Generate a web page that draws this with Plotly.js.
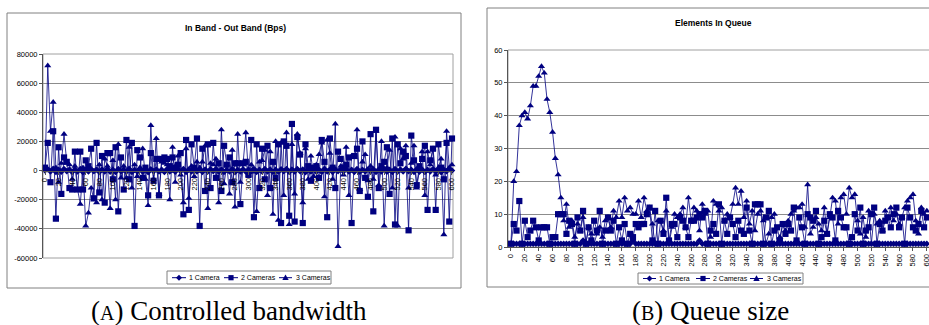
<!DOCTYPE html>
<html>
<head>
<meta charset="utf-8">
<script src="https://cdn.plot.ly/plotly-3.0.1.min.js"></script>
<style>
html,body{margin:0;padding:0;overflow:hidden;background:#fff;}
#chart{width:935px;height:325px;}
</style>
</head>
<body>
<div id="chart"></div>
<script>
// ---------- categories (sample index) ----------
const xCat = [
  0,4,8,12,16,20,24,28,32,36,
  40,44,48,52,56,60,64,68,72,76,
  80,84,88,92,96,100,104,108,112,116,
  120,124,128,132,136,140,144,148,152,156,
  160,164,168,172,176,180,184,188,192,196,
  200,204,208,212,216,220,224,228,232,236,
  240,244,248,252,256,260,264,268,272,276,
  280,284,288,292,296,300,304,308,312,316,
  320,324,328,332,336,340,344,348,352,356,
  360,364,368,372,376,380,384,388,392,396,
  400,404,408,412,416,420,424,428,432,436,
  440,444,448,452,456,460,464,468,472,476,
  480,484,488,492,496,500,504,508,512,516,
  520,524,528,532,536,540,544,548,552,556,
  560,564,568,572,576,580,584,588,592,596,
  600
];
const xTickVals = [0,20,40,60,80,100,120,140,160,180,200,220,240,260,280,300,
  320,340,360,380,400,420,440,460,480,500,520,540,560,580,600];
const xTickText = ['0','20','40','60','80','100','120','140','160','180','200','220','240','260','280','300',
  '320','340','360','380','400','420','440','460','480','500','520','540','560','580','600'];

// ---------- (A) In Band - Out Band (Bps) ----------
const bw1Camera = [
  0,900,-700,1200,-1000,600,-800,1100,-500,700,
  -900,800,-600,1000,-1200,500,-700,900,-400,800,
  -1000,700,-600,1100,-800,500,-900,1000,-500,600,
  -700,1200,-900,400,-600,1000,-800,700,-1100,900,
  -500,800,-700,600,-1000,1100,-600,500,-800,900,
  -400,1000,-900,700,-600,1200,-700,500,-1000,800,
  -600,900,-500,1100,-800,700,-900,600,-700,1000,
  -1100,500,-600,900,-800,700,-500,1200,-900,600,
  -700,1000,-600,800,-1000,500,-800,900,-400,1100,
  -900,700,-600,1000,-500,800,-1100,600,-700,900,
  -800,500,-900,1200,-600,700,-1000,800,-500,900,
  -700,1100,-600,500,-900,1000,-800,600,-700,800,
  -500,900,-1000,700,-600,1100,-800,500,-900,1000,
  -600,800,-700,1200,-500,600,-1000,900,-800,700,
  -900,500,-600,1000,-700,800,-1100,600,-500,900,
  0
];
const bw2Cameras = [
  2000,19000,-8000,27000,-33000,16000,-16000,9000,6000,-12000,
  -13000,13000,-13000,13000,-13000,7000,3000,15000,-19000,19000,
  -15000,10000,-22000,12000,12000,-6000,16000,-28000,9000,-13000,
  21000,-6000,19000,-38000,14000,9000,-5000,2000,-17000,12000,
  -7000,8000,-17000,8000,9000,8000,3000,9000,2000,4000,
  12000,-30000,21000,-27000,18000,2000,22000,-38000,15000,-14000,
  18000,-12000,19000,-5000,5000,-14000,17000,4000,9000,-8000,
  5000,5000,-23000,5000,6000,-3000,21000,-32000,18000,-12000,
  15000,-6000,17000,-12000,6000,-5000,18000,-36000,20000,17000,
  -31000,32000,-35000,23000,11000,-36000,18000,3000,-7000,2000,
  3000,-5000,21000,6000,-32000,22000,2000,-12000,13000,8000,
  2000,4000,9000,-36000,10000,15000,-14000,20000,-5000,-18000,
  25000,-28000,28000,-12000,3000,6000,16000,-16000,22000,-37000,
  18000,5000,13000,10000,-41000,24000,7000,-10000,3000,8000,
  17000,-27000,7000,15000,-27000,18000,2000,-6000,19000,-35000,
  22000
];
const bw3Cameras = [
  0,72000,27000,47000,2000,-8000,5000,25000,6000,4000,
  -6000,3000,-13000,-23000,2000,-38000,-29000,-12000,-20000,-22000,
  4000,-20000,8000,3000,-26000,7000,-20000,18000,-5000,3000,
  -5000,16000,-12000,4000,-4000,2000,15000,-6000,-24000,31000,
  -6000,22000,-16000,6000,5000,4000,-20000,16000,-8000,10000,
  -3000,-22000,15000,-19000,3000,-4000,6000,2000,6000,17000,
  -26000,5000,4000,8000,-22000,28000,-9000,4000,-16000,14000,
  -25000,25000,-8000,5000,26000,-3000,4000,-1000,-28000,6000,
  7000,14000,-17000,13000,-30000,20000,-34000,19000,-17000,26000,
  -37000,18000,-16000,25000,12000,-22000,15000,-6000,10000,-4000,
  4000,11000,19000,-18000,21000,12000,-6000,32000,-52000,3000,
  -3000,16000,-17000,10000,9000,28000,-13000,6000,11000,-7000,
  3000,-6000,27000,-10000,20000,-38000,2000,14000,-12000,23000,
  -38000,15000,8000,17000,-12000,5000,17000,-12000,1000,13000,
  -17000,13000,4000,15000,-3000,2000,8000,-44000,27000,2000,
  4000
];
const bwTickVals = [-60000,-40000,-20000,0,20000,40000,60000,80000];
const bwTickText = ['-60000','-40000','-20000','0','20000','40000','60000','80000'];

// ---------- (B) Elements In Queue ----------
const q1Camera = [
  1,1,1,1,1,1,1,1,1,1,
  1,1,1,1,1,1,1,1,1,1,
  1,1,1,1,1,1,2,1,1,1,
  1,1,1,1,1,1,1,1,1,1,
  1,1,1,1,2,1,1,1,1,1,
  1,1,1,1,1,1,1,1,1,1,
  1,1,1,1,1,1,1,1,2,1,
  1,1,1,1,1,1,1,1,1,1,
  1,1,1,1,1,1,1,1,1,1,
  1,1,1,1,1,1,1,1,1,1,
  1,1,1,1,1,1,1,1,1,1,
  1,1,1,1,1,1,1,1,1,1,
  1,1,1,1,1,1,1,1,1,1,
  1,1,1,1,1,1,1,1,1,1,
  1,1,1,1,1,1,1,1,1,1,
  1
];
const q2Cameras = [
  1,7,5,14,1,8,3,5,8,6,
  2,6,6,6,1,3,3,10,10,10,
  4,8,7,1,9,5,11,1,6,2,
  8,5,11,1,5,9,5,8,1,6,
  2,7,1,4,3,7,6,7,7,10,
  12,2,11,1,8,4,15,2,7,7,
  3,9,8,6,3,8,8,9,10,9,
  11,1,5,7,4,13,1,8,4,9,
  7,3,8,5,4,12,5,1,13,13,
  13,1,9,11,1,5,6,2,7,4,
  7,5,12,2,9,6,1,10,9,8,
  11,1,3,8,4,10,9,2,11,9,
  6,6,1,3,10,5,12,1,5,6,
  10,12,1,7,5,8,9,6,10,12,
  6,9,1,12,9,6,5,7,11,6,
  9
];
const q3Cameras = [
  1,20,23,37,40,41,39,43,49,49,
  52,55,53,45,41,35,27,22,15,8,
  13,6,8,3,7,5,9,1,6,4,
  1,4,6,3,8,9,6,11,9,14,
  9,15,11,12,10,10,14,9,15,11,
  12,7,1,8,8,5,11,1,6,10,
  9,10,12,6,15,8,12,11,5,13,
  10,11,3,14,13,11,12,8,10,9,
  13,18,13,17,9,14,7,11,5,10,
  11,8,1,4,9,10,1,3,7,5,
  8,10,11,12,12,13,6,19,4,6,
  9,7,5,12,4,9,15,14,7,15,
  16,10,18,15,16,8,4,9,3,11,
  1,10,7,8,5,11,9,12,8,10,
  7,9,12,14,15,16,8,4,12,10,
  11
];
const seriesNames = ['1 Camera','2 Cameras','3 Cameras'];
const markerSymbols = ['diamond','square','triangle-up'];

// ---------- layout helpers ----------
const W = 935, H = 325;
const px = v => v / W;
const py = v => 1 - v / H;
const NAVY = '#000080';
const FONT = 'Liberation Sans, Arial, sans-serif';
const GRID = '#8c8c8c';

function mk(x, y, i, xa, ya) {
  return {
    type: 'scatter', mode: 'lines+markers', x: x, y: y,
    name: seriesNames[i], xaxis: xa, yaxis: ya, showlegend: false,
    cliponaxis: false,
    line: {color: NAVY, width: 0.8},
    marker: {symbol: markerSymbols[i], color: NAVY, size: i === 0 ? 5 : 6.2,
             line: {width: 0}}
  };
}

const data = [
  mk(xCat, bw1Camera, 0, 'x', 'y'),
  mk(xCat, bw2Cameras, 1, 'x', 'y'),
  mk(xCat, bw3Cameras, 2, 'x', 'y'),
  mk(xCat, q1Camera, 0, 'x2', 'y2'),
  mk(xCat, q2Cameras, 1, 'x2', 'y2'),
  mk(xCat, q3Cameras, 2, 'x2', 'y2')
];

const tickFont = {family: FONT, size: 7.5, color: '#000'};

// Excel-style legend boxes (shapes + text)
const markerPaths = [
  'M0,3L3,0L0,-3L-3,0Z',
  'M-2.6,-2.6H2.6V2.6H-2.6Z',
  'M0,3.2L3.2,-2.4L-3.2,-2.4Z'
];
const shapes = [];
const annotations = [];
function legendBox(box, items, cy) {
  shapes.push({type: 'rect', xref: 'paper', yref: 'paper',
    x0: px(box[0]), x1: px(box[1]), y0: py(box[3]), y1: py(box[2]),
    line: {color: '#808080', width: 1}, fillcolor: '#fff', layer: 'above'});
  items.forEach((it, i) => {
    shapes.push({type: 'line', xref: 'paper', yref: 'paper',
      x0: px(it[0]), x1: px(it[1]), y0: py(cy), y1: py(cy),
      line: {color: NAVY, width: 1}, layer: 'above'});
    shapes.push({type: 'path', xref: 'paper', yref: 'paper',
      xsizemode: 'pixel', ysizemode: 'pixel',
      xanchor: px((it[0] + it[1]) / 2), yanchor: py(cy),
      path: markerPaths[i], fillcolor: NAVY, line: {width: 0}, layer: 'above'});
    annotations.push({text: seriesNames[i], xref: 'paper', yref: 'paper',
      x: px(it[2]), y: py(cy), xanchor: 'left', yanchor: 'middle', showarrow: false,
      font: {family: FONT, size: 7, color: '#000'}});
  });
}
legendBox([167, 331, 271, 284], [[172, 186, 187], [224, 238, 239], [279, 292, 294]], 277.7);
legendBox([638, 803, 273, 284], [[643, 656, 657], [696, 710, 711], [750, 763, 765]], 278.5);

// outer chart frames and plot-area borders
shapes.push(
  {type: 'rect', xref: 'paper', yref: 'paper', x0: px(7), x1: px(461), y0: py(288), y1: py(13),
   line: {color: '#808080', width: 1}, layer: 'below'},
  {type: 'rect', xref: 'paper', yref: 'paper', x0: px(487), x1: px(960), y0: py(287), y1: py(8),
   line: {color: '#808080', width: 1}, layer: 'below'},
  {type: 'rect', xref: 'x domain', yref: 'y domain', x0: 0, x1: 1, y0: 0, y1: 1,
   line: {color: '#a0a0a0', width: 1}, layer: 'below'},
  {type: 'rect', xref: 'x2 domain', yref: 'y2 domain', x0: 0, x1: 1, y0: 0, y1: 1,
   line: {color: '#a0a0a0', width: 1}, layer: 'below'}
);

annotations.push(
  {text: '<b>In Band - Out Band (Bps)</b>', xref: 'paper', yref: 'paper',
   x: px(235), y: py(28), xanchor: 'center', yanchor: 'middle', showarrow: false,
   font: {family: FONT, size: 8.5, color: '#000'}},
  {text: '<b>Elements In Queue</b>', xref: 'paper', yref: 'paper',
   x: px(713), y: py(23), xanchor: 'center', yanchor: 'middle', showarrow: false,
   font: {family: FONT, size: 8.5, color: '#000'}},
  {text: "(<span style='font-size:20px'>A</span>) Controlled bandwidth", xref: 'paper', yref: 'paper',
   x: px(229), y: py(311), xanchor: 'center', yanchor: 'middle', showarrow: false,
   font: {family: 'Liberation Serif, DejaVu Serif, serif', size: 27, color: '#000'}},
  {text: "(<span style='font-size:20px'>B</span>) Queue size", xref: 'paper', yref: 'paper',
   x: px(710), y: py(311), xanchor: 'center', yanchor: 'middle', showarrow: false,
   font: {family: 'Liberation Serif, DejaVu Serif, serif', size: 27, color: '#000'}}
);

const layout = {
  width: W, height: H,
  margin: {l: 0, r: 0, t: 0, b: 0, pad: 0},
  paper_bgcolor: '#fff', plot_bgcolor: '#fff',
  showlegend: false,
  xaxis: {
    domain: [px(43), px(453)], range: [-3, 601.5],
    anchor: 'free', position: py(171),
    tickmode: 'array', tickvals: xTickVals, ticktext: xTickText,
    tickangle: -90, tickfont: tickFont, ticks: 'outside', ticklen: 3,
    tickcolor: '#555', showgrid: false, zeroline: false,
    showline: true, linecolor: '#555', linewidth: 1
  },
  yaxis: {
    domain: [py(258), py(54)], range: [-60000, 80000], anchor: 'x',
    tickmode: 'array', tickvals: bwTickVals, ticktext: bwTickText,
    tickfont: tickFont, ticks: 'outside', ticklen: 3, tickcolor: '#555',
    showgrid: true, gridcolor: GRID, gridwidth: 1, zeroline: false,
    showline: true, linecolor: '#555', linewidth: 1
  },
  xaxis2: {
    domain: [px(508), px(931)], range: [-4.3, 606], anchor: 'y2',
    tickmode: 'array', tickvals: xTickVals, ticktext: xTickText,
    tickangle: -90, tickfont: tickFont, ticks: 'outside', ticklen: 3,
    tickcolor: '#555', showgrid: false, zeroline: false,
    showline: true, linecolor: '#555', linewidth: 1
  },
  yaxis2: {
    domain: [py(247), py(50)], range: [0, 60], anchor: 'x2',
    tickmode: 'linear', tick0: 0, dtick: 10,
    tickfont: tickFont, ticks: 'outside', ticklen: 3, tickcolor: '#555',
    showgrid: true, gridcolor: GRID, gridwidth: 1, zeroline: false,
    showline: true, linecolor: '#555', linewidth: 1
  },
  shapes: shapes,
  annotations: annotations
};

Plotly.newPlot('chart', data, layout, {staticPlot: true, displayModeBar: false});
</script>
</body>
</html>
